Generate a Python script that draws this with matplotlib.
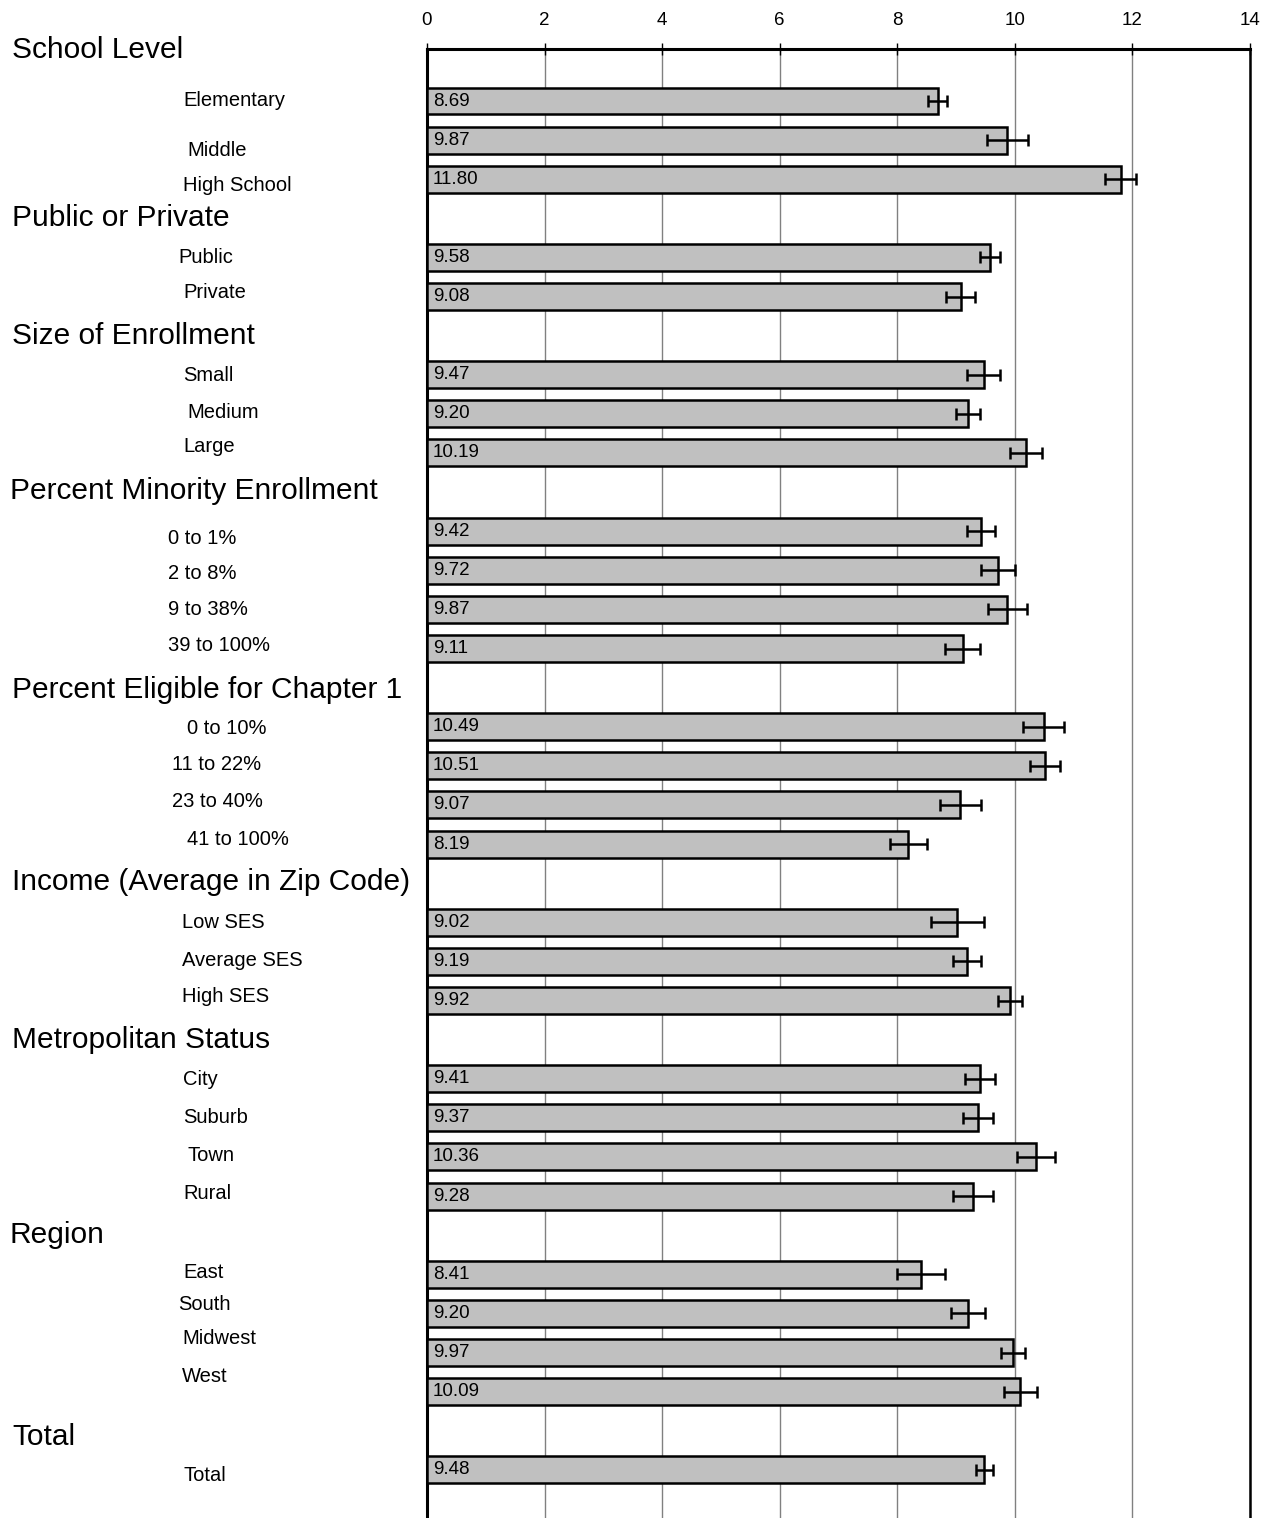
import matplotlib.pyplot as plt
import numpy as np
from matplotlib.transforms import blended_transform_factory

plt.rcParams['font.family'] = ['Liberation Sans', 'DejaVu Sans']

groups = ['School Level', 'Public or Private', 'Size of Enrollment', 'Percent Minority Enrollment',
          'Percent Eligible for Chapter 1', 'Income (Average in Zip Code)', 'Metropolitan Status',
          'Region', 'Total']
categories = [
    ['Elementary', 'Middle', 'High School'],
    ['Public', 'Private'],
    ['Small', 'Medium', 'Large'],
    ['0 to 1%', '2 to 8%', '9 to 38%', '39 to 100%'],
    ['0 to 10%', '11 to 22%', '23 to 40%', '41 to 100%'],
    ['Low SES', 'Average SES', 'High SES'],
    ['City', 'Suburb', 'Town', 'Rural'],
    ['East', 'South', 'Midwest', 'West'],
    ['Total'],
]
values = [
    [8.69, 9.87, 11.80],
    [9.58, 9.08],
    [9.47, 9.20, 10.19],
    [9.42, 9.72, 9.87, 9.11],
    [10.49, 10.51, 9.07, 8.19],
    [9.02, 9.19, 9.92],
    [9.41, 9.37, 10.36, 9.28],
    [8.41, 9.20, 9.97, 10.09],
    [9.48],
]
errors = [
    [0.16, 0.35, 0.26],
    [0.17, 0.25],
    [0.28, 0.20, 0.27],
    [0.24, 0.29, 0.33, 0.29],
    [0.35, 0.26, 0.35, 0.32],
    [0.45, 0.24, 0.21],
    [0.26, 0.26, 0.32, 0.34],
    [0.41, 0.29, 0.21, 0.28],
    [0.14],
]
xticks = [0, 2, 4, 6, 8, 10, 12, 14]

# layout nudges (pixels) for the hand-placed labels of the original
header_dy = [-12, 0, 0, -1, 2, -1, 0, 0, 6]
header_x = [12, 12, 12, 10, 12, 12, 12, 10, 12]
label_dy = [[0, 10, 6], [0, -4], [1, -1, -6], [7, 3, 0, -3], [2, -1, -3, -5],
            [0, -1, -4], [1, 0, -1, -3], [-2, -9, -14, -15], [6]]
label_x = [[183, 187, 183], [178, 183], [183, 187, 183], [168, 168, 168, 168],
           [187, 172, 172, 187], [182, 182, 182], [183, 183, 187, 183],
           [183, 178, 182, 182], [183]]

W, H = 1277, 1518
row_px = 39.11
fig = plt.figure(figsize=(W / 100, H / 100), dpi=100)
ax = fig.add_axes([427 / W, 0, (1250 - 427) / W, (H - 49) / H])

rows, vals, errs = [], [], []
header_rows = []
r = 0
for g, cats in enumerate(categories):
    header_rows.append(r)
    r += 1
    for c in range(len(cats)):
        rows.append(r)
        vals.append(values[g][c])
        errs.append(errors[g][c])
        r += 1
rows = np.array(rows)

ax.barh(rows, vals, height=0.69, color='#c0c0c0', edgecolor='black', linewidth=1.8, zorder=3)
ax.errorbar(vals, rows, xerr=errs, fmt='none', ecolor='black', elinewidth=1.8,
            capsize=4.5, capthick=1.8, zorder=4)
for y, v in zip(rows, vals):
    ax.text(0.1, y, f'{v:.2f}', va='center', ha='left', fontsize=13.5, zorder=5)

row0 = 101 - row_px
top = (49 - row0) / row_px
bottom = (H - row0) / row_px
ax.set_ylim(bottom, top)
ax.set_xlim(0, 14)
ax.set_xticks(xticks)
ax.xaxis.tick_top()
ax.tick_params(axis='x', direction='inout', length=9, width=1, pad=10, labelsize=13.5)
ax.set_yticks([])
ax.grid(axis='x', color='#808080', linewidth=1, zorder=0)
ax.spines['bottom'].set_visible(False)
ax.spines['top'].set_linewidth(2.2)
ax.spines['left'].set_linewidth(2.2)
ax.spines['right'].set_linewidth(1.8)

trans = blended_transform_factory(fig.transFigure, ax.transData)
i = 0
for g, name in enumerate(groups):
    ax.text(header_x[g] / W, header_rows[g] + header_dy[g] / row_px, name, transform=trans,
            fontsize=21.5, va='center', ha='left', clip_on=False)
    for c, cat in enumerate(categories[g]):
        ax.text(label_x[g][c] / W, rows[i] + label_dy[g][c] / row_px, cat, transform=trans,
                fontsize=14.5, va='center', ha='left', clip_on=False)
        i += 1

plt.savefig('out.png', dpi=100)
